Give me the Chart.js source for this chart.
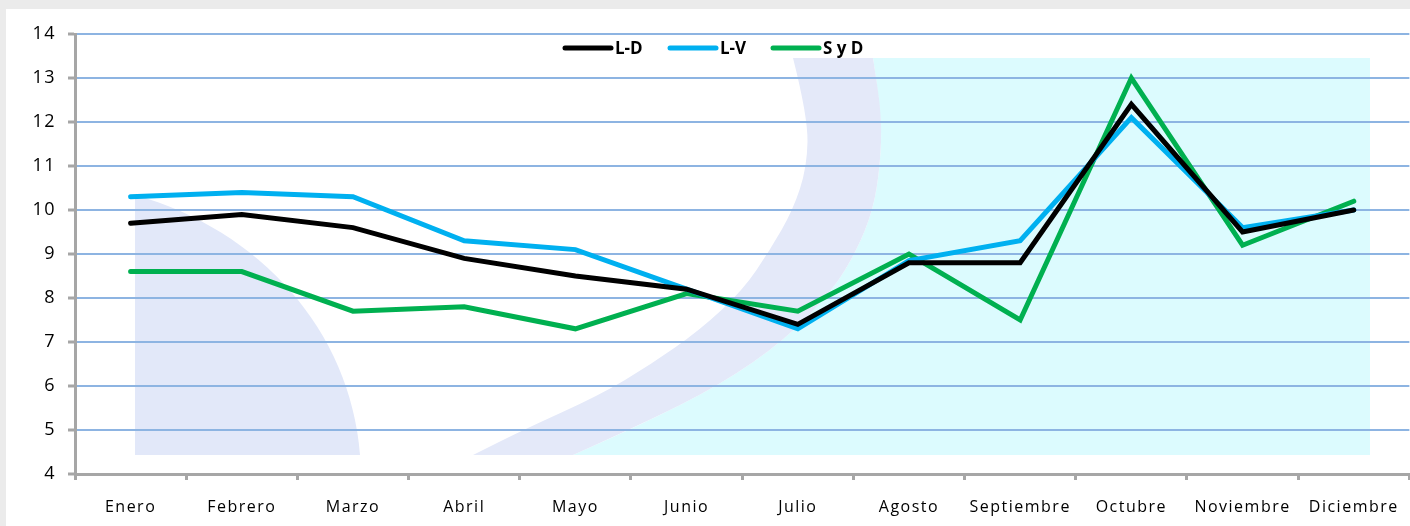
<!DOCTYPE html>
<html>
<head>
<meta charset="utf-8">
<script src="https://cdn.jsdelivr.net/npm/chart.js@4.4.1/dist/chart.umd.min.js"></script>
<style>
  html, body { margin: 0; padding: 0; background: #ebebeb; }
  #wrap { position: absolute; left: 6px; top: 9px; width: 1404px; height: 517px; background: #ffffff; }
</style>
</head>
<body>
<div id="wrap"><canvas id="c" width="1404" height="517"></canvas></div>
<script>
const categories = ['Enero','Febrero','Marzo','Abril','Mayo','Junio','Julio','Agosto','Septiembre','Octubre','Noviembre','Diciembre'];
const seriesLD  = [9.7, 9.9, 9.6, 8.9, 8.5, 8.2, 7.4, 8.8, 8.8, 12.4, 9.5, 10.0];
const seriesLV  = [10.3, 10.4, 10.3, 9.3, 9.1, 8.2, 7.3, 8.85, 9.3, 12.1, 9.6, 10.0];
const seriesSyD = [8.6, 8.6, 7.7, 7.8, 7.3, 8.1, 7.7, 9.0, 7.5, 13.0, 9.2, 10.2];
const seriesNames = ['L-D', 'L-V', 'S y D'];
const yMin = 4, yMax = 14, yStep = 1;

const FONT = "'Open Sans', 'Noto Sans', sans-serif";

// smooth path through points
function smooth(ctx, pts, ox, oy, start) {
  const P = pts.map(p => [p[0] + ox, p[1] + oy]);
  if (start) ctx.moveTo(P[0][0], P[0][1]); else ctx.lineTo(P[0][0], P[0][1]);
  for (let i = 1; i < P.length - 1; i++) {
    const mx = (P[i][0] + P[i + 1][0]) / 2, my = (P[i][1] + P[i + 1][1]) / 2;
    ctx.quadraticCurveTo(P[i][0], P[i][1], mx, my);
  }
  ctx.lineTo(P[P.length - 1][0], P[P.length - 1][1]);
}

const bgPlugin = {
  id: 'bgShapes',
  beforeDraw(chart) {
    const ctx = chart.ctx;
    const ox = -6, oy = -9; // page -> canvas
    const rightCurve = [[873,58],[882,117],[880,167],[873,210],[857,250],[833,290],[785,340],[720,385],[640,425],[573,455]];
    const leftCurve  = [[793,58],[808,117],[807,167],[793,210],[770,250],[743,290],[700,330],[650,365],[600,395],[523,430],[473,455]];
    ctx.save();
    // cyan region
    ctx.fillStyle = '#dcfbfe';
    ctx.beginPath();
    smooth(ctx, rightCurve, ox, oy, true);
    ctx.lineTo(1370 + ox, 455 + oy);
    ctx.lineTo(1370 + ox, 58 + oy);
    ctx.closePath();
    ctx.fill();
    // crescent band
    ctx.fillStyle = '#e4e9f9';
    ctx.beginPath();
    smooth(ctx, leftCurve, ox, oy, true);
    smooth(ctx, rightCurve.slice().reverse(), ox, oy, false);
    ctx.closePath();
    ctx.fill();
    // left lavender shape
    ctx.fillStyle = '#e2e8f9';
    ctx.beginPath();
    ctx.moveTo(135 + ox, 195 + oy);
    ctx.bezierCurveTo(260 + ox, 230 + oy, 350 + ox, 330 + oy, 360 + ox, 455 + oy);
    ctx.lineTo(135 + ox, 455 + oy);
    ctx.closePath();
    ctx.fill();
    ctx.restore();
    ctx.letterSpacing = '1.5px';
  },
  beforeDatasetsDraw(chart) {
    chart.ctx.letterSpacing = '0px';
  }
};

const legendPlugin = {
  id: 'customLegend',
  afterDraw(chart) {
    const ctx = chart.ctx;
    const ox = -6, oy = -9;
    const xs = [565, 670, 773];
    const y = 48 + oy;
    ctx.save();
    ctx.letterSpacing = '0px';
    ctx.font = "bold 17px " + FONT;
    ctx.textBaseline = 'middle';
    chart.data.datasets.forEach((ds, i) => {
      const x = xs[i] + ox;
      ctx.strokeStyle = ds.borderColor;
      ctx.lineWidth = 5;
      ctx.lineCap = 'round';
      ctx.beginPath();
      ctx.moveTo(x, y);
      ctx.lineTo(x + 46, y);
      ctx.stroke();
      ctx.fillStyle = '#000';
      ctx.fillText(ds.label, x + 50, y + 1);
    });
    ctx.restore();
  }
};

new Chart(document.getElementById('c'), {
  type: 'line',
  data: {
    labels: categories,
    datasets: [
      { label: seriesNames[0], data: seriesLD,  borderColor: '#000000', backgroundColor: '#000000' },
      { label: seriesNames[1], data: seriesLV,  borderColor: '#00b0f0', backgroundColor: '#00b0f0' },
      { label: seriesNames[2], data: seriesSyD, borderColor: '#00b050', backgroundColor: '#00b050' }
    ]
  },
  options: {
    responsive: false,
    animation: false,
    devicePixelRatio: 1,
    layout: { padding: { left: 0, right: 0, top: 25, bottom: 0 } },
    elements: {
      line: { borderWidth: 5, tension: 0, borderJoinStyle: 'miter', borderCapStyle: 'round' },
      point: { radius: 0, hoverRadius: 0 }
    },
    plugins: { legend: { display: false }, tooltip: { enabled: false } },
    scales: {
      x: {
        offset: true,
        grid: { offset: true, drawOnChartArea: false, drawTicks: true, tickLength: 6, tickColor: '#a6a6a6', tickWidth: 3 },
        border: { display: true, color: '#a6a6a6', width: 3 },
        ticks: { color: '#000', font: { family: FONT, size: 16 }, padding: 18, maxRotation: 0, autoSkip: false },
        afterFit(scale) { scale.height = 52; }
      },
      y: {
        min: yMin, max: yMax,
        grid: { color: '#8db4e2', lineWidth: 2, borderDash: [5, 1], drawTicks: true, tickLength: 7, tickColor: '#a6a6a6', tickWidth: 3, tickBorderDash: [] },
        border: { display: true, color: '#a6a6a6', width: 3 },
        ticks: { stepSize: yStep, color: '#000', font: { family: FONT, size: 18 }, padding: 12 },
        afterFit(scale) { scale.width = 69; }
      }
    }
  },
  plugins: [bgPlugin, legendPlugin]
});
</script>
</body>
</html>
